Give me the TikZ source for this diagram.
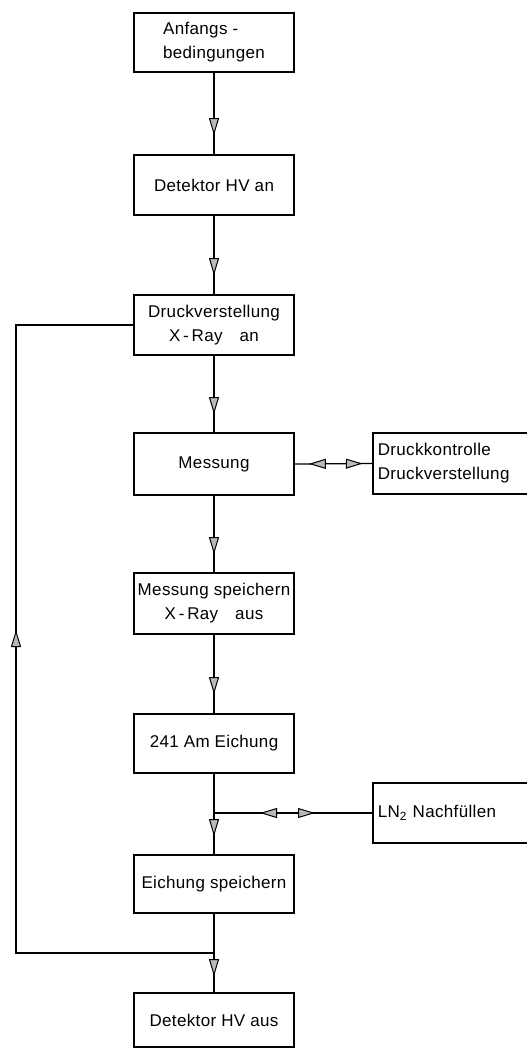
\documentclass[tikz,border=0pt]{standalone}
\usepackage{fontspec}
\setmainfont[LetterSpace=2]{Liberation Sans}
\usetikzlibrary{arrows.meta,decorations.markings}
\begin{document}
\begin{tikzpicture}[x=1pt,y=-1pt,
  tipA/.tip={Triangle[length=17pt,width=10pt,fill=gray!55,line width=1pt]},
  box/.style={draw, line width=1.6pt, minimum width=160pt, inner sep=2pt,
    font=\fontsize{17}{24}\selectfont, align=center},
  sidebox/.style={draw, line width=1.6pt, anchor=west, text width=150pt, inner xsep=5pt,
    font=\fontsize{17}{24}\selectfont, align=left},
  conn/.style={line width=1.2pt},
  fwd/.style={postaction={decorate,decoration={markings,mark=at position #1 with {\arrow{tipA}}}}},
  bwd/.style={postaction={decorate,decoration={markings,mark=at position #1 with {\arrowreversed{tipA}}}}}
]
\clip (0,0) rectangle (527,1050);
\fill[white] (0,0) rectangle (527,1050);

\node[box, minimum height=59pt, align=left] (b1) at (214,42.5) {Anfangs -\\bedingungen};
\node[box, minimum height=60pt] (b2) at (214,185) {Detektor HV an};
\node[box, minimum height=60pt] (b3) at (214,325) {Druckverstellung\\X\,-\,Ray\quad an};
\node[box, minimum height=62pt] (b4) at (214,464) {Messung};
\node[box, minimum height=61pt] (b5) at (214,603.5) {Messung speichern\\X\,-\,Ray\quad aus};
\node[box, minimum height=59pt] (b6) at (214,743.5) {241 Am Eichung};
\node[box, minimum height=58pt] (b7) at (214,884) {Eichung speichern};
\node[box, minimum height=54pt] (b8) at (214,1020) {Detektor HV aus};
\node[sidebox, minimum height=61pt] (dk) at (372,463.5) {Druckkontrolle\\Druckverstellung};
\node[sidebox, minimum height=60pt] (ln) at (372,813) {LN\textsubscript{2} Nachfüllen};

\coordinate (j1) at (b6.south |- ln.west);
\coordinate (j2) at (214,953);
\coordinate (c1) at (16,953);
\coordinate (c2) at (c1 |- b3.west);

\draw[conn, fwd=-19pt] (b1.south) -- (b2.north);
\draw[conn, fwd=-19pt] (b2.south) -- (b3.north);
\draw[conn, fwd=-18pt] (b3.south) -- (b4.north);
\draw[conn, fwd=-18pt] (b4.south) -- (b5.north);
\draw[conn, fwd=-19pt] (b5.south) -- (b6.north);
\draw[conn] (b6.south) -- (j1);
\draw[conn, fwd=-18pt] (j1) -- (b7.north);
\draw[conn, bwd=46pt, fwd=101pt] (j1) -- (ln.west);
\draw[conn] (b7.south) -- (j2);
\draw[conn, fwd=-16pt] (j2) -- (b8.north);
\draw[conn, fwd=521pt] (j2) -- (c1) -- (c2) -- (b3.west);
\draw[conn, bwd=14pt, fwd=68pt] (b4.east) -- (dk.west);
\end{tikzpicture}
\end{document}
